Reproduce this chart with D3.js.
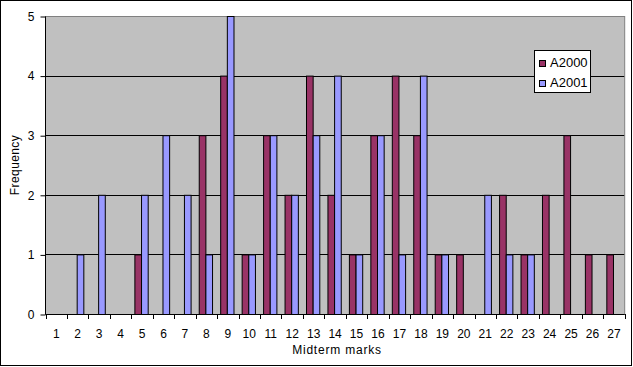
<!DOCTYPE html>
<html>
<head>
<meta charset="utf-8">
<script src="https://cdn.jsdelivr.net/npm/d3@7"></script>
<style>
  html, body { margin: 0; padding: 0; background: #fff; }
  svg { display: block; font-family: "Liberation Sans", Arial, sans-serif; }
</style>
</head>
<body>
<svg id="chart" width="633" height="367"></svg>
<script>
const categories = ["1","2","3","4","5","6","7","8","9","10","11","12","13","14","15","16","17","18","19","20","21","22","23","24","25","26","27"];
const seriesNames = ["A2000", "A2001"];
const a2000 = [0,0,0,0,1,0,0,3,4,1,3,2,4,2,1,3,4,3,1,1,0,2,1,2,3,1,1];
const a2001 = [0,1,2,0,2,3,2,1,5,1,3,2,3,4,1,3,1,4,1,0,2,1,1,0,0,0,0];
const yTicks = [0,1,2,3,4,5];
const colors = ["#993366", "#9999FF"];

(function () {
const svg = d3.select("#chart");
const pL = 45.5, pR = 624.7, pT = 16, pB = 314;

// outer border
svg.append("rect").attr("x", 0.5).attr("y", 0.5).attr("width", 631).attr("height", 365)
  .attr("fill", "#fff").attr("stroke", "#000");

const x = d3.scaleBand().domain(categories).range([pL, pR]).paddingInner(0).paddingOuter(0);
const xs = d3.scaleBand().domain(seriesNames).range([0, x.bandwidth()]).paddingInner(0).paddingOuter(0.613);
const y = d3.scaleLinear().domain([0, 5]).range([pB, pT]);

// plot area
svg.append("rect").attr("x", pL).attr("y", pT).attr("width", pR - pL).attr("height", pB - pT)
  .attr("fill", "#C0C0C0");

// gridlines
svg.append("g").selectAll("line").data(yTicks.filter(d => d > 0 && d < 5)).join("line")
  .attr("x1", pL).attr("x2", pR)
  .attr("y1", d => Math.round(y(d)) + 0.5).attr("y2", d => Math.round(y(d)) + 0.5)
  .attr("stroke", "#000").attr("stroke-width", 1);

// plot border (gray)
svg.append("rect").attr("x", pL).attr("y", pT + 0.5).attr("width", pR - pL).attr("height", pB - pT)
  .attr("fill", "none").attr("stroke", "#808080");

// bars
const data = categories.map((c, i) => ({ c, vals: [a2000[i], a2001[i]] }));
const groups = svg.append("g").selectAll("g").data(data).join("g")
  .attr("transform", d => `translate(${x(d.c) - 0.5},0)`);
groups.selectAll("rect").data(d => d.vals.map((v, j) => ({ v, s: seriesNames[j], j })).filter(e => e.v > 0))
  .join("rect")
  .attr("x", e => xs(e.s))
  .attr("width", xs.bandwidth())
  .attr("y", e => y(e.v) + 0.5)
  .attr("height", e => y(0) - y(e.v))
  .attr("fill", e => colors[e.j])
  .attr("stroke", "#000").attr("stroke-width", 1);

// y axis
const yAxis = d3.axisLeft(y).tickValues(yTicks).tickSize(5).tickPadding(6).tickFormat(d3.format("d"));
const gy = svg.append("g").attr("transform", `translate(${pL},0.5)`).call(yAxis);
gy.select(".domain").attr("d", `M0,${pT}V${pB}`).attr("stroke", "#000");
gy.selectAll(".tick line").attr("stroke", "#000");
gy.selectAll(".tick text").attr("font-size", "12px").attr("fill", "#000")
  .attr("font-family", "Liberation Sans, Arial, sans-serif");

// x axis line and boundary ticks
svg.append("line").attr("x1", pL).attr("x2", pR).attr("y1", pB + 0.5).attr("y2", pB + 0.5)
  .attr("stroke", "#000");
const boundaries = categories.map(c => x(c)).concat([pR]);
svg.append("g").selectAll("line").data(boundaries).join("line")
  .attr("x1", d => Math.round(d) + 0.5).attr("x2", d => Math.round(d) + 0.5)
  .attr("y1", pB).attr("y2", pB + 5).attr("stroke", "#000");
svg.append("g").selectAll("text").data(categories).join("text")
  .attr("x", d => x(d) + x.bandwidth() / 2)
  .attr("y", 338)
  .attr("text-anchor", "middle")
  .attr("font-size", "12px")
  .attr("fill", "#000")
  .text(d => d);

// axis titles
svg.append("text").attr("x", 337).attr("y", 354).attr("text-anchor", "middle")
  .attr("font-size", "12px").attr("letter-spacing", "0.8px").text("Midterm marks");
svg.append("text").attr("transform", "translate(19.3,165) rotate(-90)").attr("text-anchor", "middle")
  .attr("font-size", "12px").attr("letter-spacing", "0.4px").text("Frequency");

// legend
const lg = svg.append("g");
lg.append("rect").attr("x", 534.5).attr("y", 50.5).attr("width", 56).attr("height", 42)
  .attr("fill", "#fff").attr("stroke", "#000");
const items = lg.selectAll("g").data(seriesNames).join("g")
  .attr("transform", (d, i) => `translate(0,${i * 20})`);
items.append("rect").attr("x", 539.5).attr("y", 60.5).attr("width", 6).attr("height", 6)
  .attr("fill", (d, i) => colors[i]).attr("stroke", "#000");
items.append("text").attr("x", 550).attr("y", 67).attr("font-size", "13px").text(d => d);
})();
</script>
</body>
</html>
